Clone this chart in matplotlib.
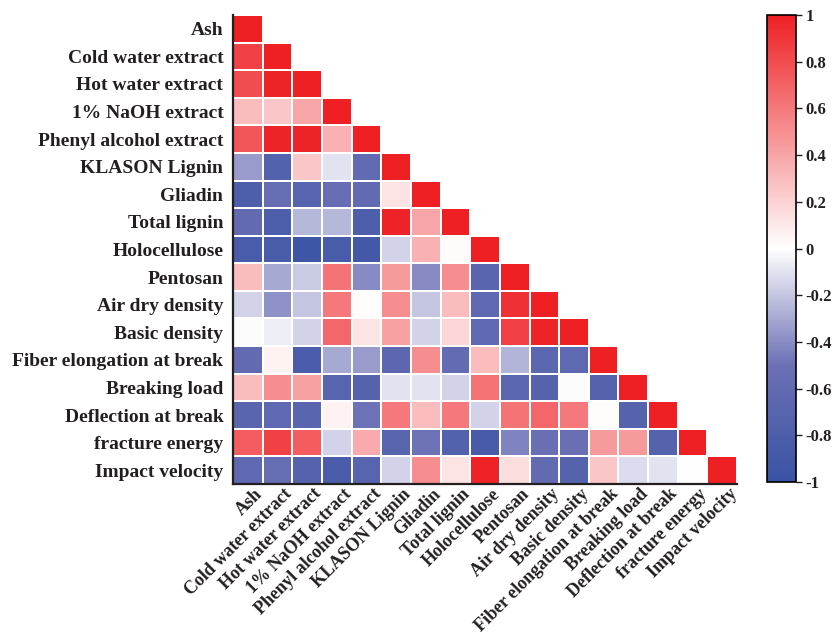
import numpy as np
import matplotlib.pyplot as plt
from matplotlib.colors import LinearSegmentedColormap
from matplotlib.transforms import ScaledTranslation

plt.rcParams['font.family'] = ['Liberation Serif', 'DejaVu Serif']
plt.rcParams['font.weight'] = 'bold'
plt.rcParams['text.color'] = '#231f20'
plt.rcParams['xtick.color'] = '#231f20'
plt.rcParams['ytick.color'] = '#231f20'

labels = ['Ash', 'Cold water extract', 'Hot water extract', '1% NaOH extract',
          'Phenyl alcohol extract', 'KLASON Lignin', 'Gliadin', 'Total lignin',
          'Holocellulose', 'Pentosan', 'Air dry density', 'Basic density',
          'Fiber elongation at break', 'Breaking load', 'Deflection at break',
          'fracture energy', 'Impact velocity']

# lower triangle of the correlation matrix, row by row (diagonal included)
lower = [
    [1],
    [0.85, 1],
    [0.80, 0.98, 1],
    [0.30, 0.25, 0.40, 1],
    [0.75, 0.98, 0.98, 0.35, 1],
    [-0.35, -0.75, 0.25, -0.10, -0.60, 1],
    [-0.80, -0.55, -0.70, -0.55, -0.60, 0.12, 1],
    [-0.60, -0.80, -0.25, -0.25, -0.80, 0.98, 0.40, 1],
    [-0.85, -0.85, -0.95, -0.85, -0.90, -0.15, 0.35, 0.02, 1],
    [0.30, -0.30, -0.18, 0.62, -0.40, 0.45, -0.40, 0.50, -0.68, 1],
    [-0.15, -0.38, -0.20, 0.60, 0.01, 0.50, -0.20, 0.30, -0.62, 0.92, 1],
    [-0.01, -0.06, -0.15, 0.68, 0.12, 0.42, -0.15, 0.18, -0.62, 0.85, 0.98, 1],
    [-0.60, 0.06, -0.82, -0.30, -0.35, -0.65, 0.50, -0.58, 0.30, -0.26, -0.66, -0.62, 1],
    [0.30, 0.50, 0.42, -0.70, -0.72, -0.10, -0.10, -0.15, 0.62, -0.66, -0.72, -0.01, -0.72, 1],
    [-0.68, -0.62, -0.68, 0.06, -0.50, 0.60, 0.30, 0.60, -0.15, 0.62, 0.68, 0.60, 0.01, -0.72, 1],
    [0.72, 0.85, 0.72, -0.15, 0.38, -0.70, -0.50, -0.75, -0.86, -0.43, -0.52, -0.52, 0.45, 0.45, -0.72, 1],
    [-0.62, -0.55, -0.72, -0.82, -0.70, -0.15, 0.50, 0.12, 0.98, 0.15, -0.60, -0.72, 0.25, -0.12, -0.10, 0.00, 1],
]

n = len(labels)
corr = np.full((n, n), np.nan)
for i, row in enumerate(lower):
    corr[i, :len(row)] = row
data = np.ma.masked_invalid(corr)

cmap = LinearSegmentedColormap.from_list(
    'bwr_corr',
    [(0.0, '#3953a4'), (0.25, '#6c70b5'), (0.5, '#ffffff'), (1.0, '#ee2024')])

fig = plt.figure(figsize=(8.36, 6.38), dpi=100)
ax = fig.add_axes([0.2787, 0.2414, 0.603, 0.7351])
mesh = ax.pcolormesh(data, cmap=cmap, vmin=-1, vmax=1, edgecolors='white', linewidth=1.2)
ax.set_xlim(0, n)
ax.set_ylim(n, 0)

ax.set_xticks(np.arange(n) + 0.5)
ax.set_yticks(np.arange(n) + 0.5)
ax.set_xticklabels(labels, rotation=45, ha='right', rotation_mode='anchor', fontsize=13, fontweight='bold')
ax.set_yticklabels(labels, fontsize=14, fontweight='bold')
ax.tick_params(axis='y', length=0, pad=7)
ax.tick_params(axis='x', length=0, pad=1)
# nudge the slanted labels a little to the right of the cell centres
for lbl in ax.get_xticklabels():
    lbl.set_transform(lbl.get_transform() + ScaledTranslation(0.06, 0, fig.dpi_scale_trans))
for s in ['top', 'right']:
    ax.spines[s].set_visible(False)
for s in ['left', 'bottom']:
    ax.spines[s].set_linewidth(1.6)
    ax.spines[s].set_color('#231f20')

cax = fig.add_axes([0.9175, 0.2445, 0.0347, 0.732])
cb = fig.colorbar(mesh, cax=cax, ticks=np.arange(-1, 1.01, 0.2))
cb.ax.set_yticklabels(['-1', '-0.8', '-0.6', '-0.4', '-0.2', '0', '0.2', '0.4', '0.6', '0.8', '1'],
                      fontsize=12, fontweight='bold')
cb.ax.tick_params(length=4, width=1, pad=3)
cb.outline.set_linewidth(1.2)

fig.savefig('out.png', dpi=100)
